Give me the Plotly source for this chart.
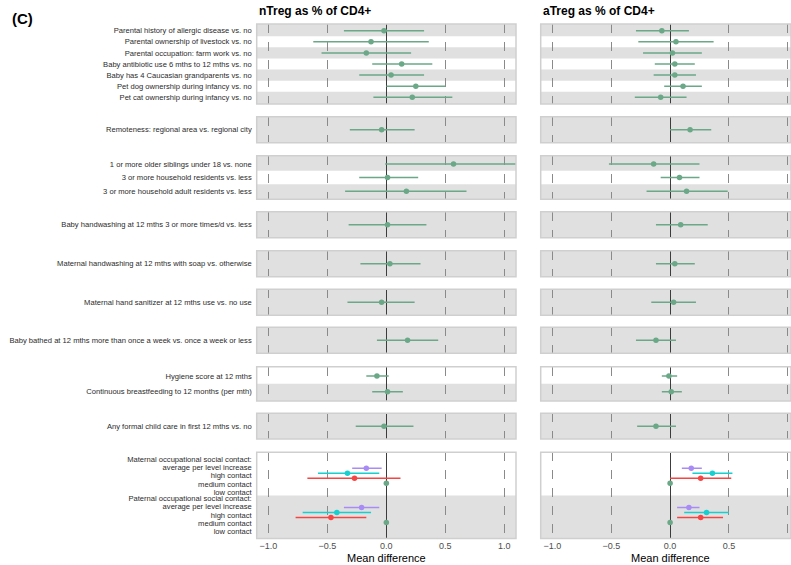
import plotly.graph_objects as go

# ---------------- data ----------------
group1_labels = ["Parental history of allergic disease vs. no",
                 "Parental ownership of livestock vs. no",
                 "Parental occupation: farm work vs. no",
                 "Baby antibiotic use 6 mths to 12 mths vs. no",
                 "Baby has 4 Caucasian grandparents vs. no",
                 "Pet dog ownership during infancy vs. no",
                 "Pet cat ownership during infancy vs. no"]
group2_labels = ["Remoteness: regional area vs. regional city"]
group3_labels = ["1 or more older siblings under 18 vs. none",
                 "3 or more household residents vs. less",
                 "3 or more household adult residents vs. less"]
group4_labels = ["Baby handwashing at 12 mths 3 or more times/d vs. less"]
group5_labels = ["Maternal handwashing at 12 mths with soap vs. otherwise"]
group6_labels = ["Maternal hand sanitizer at 12 mths use vs. no use"]
group7_labels = ["Baby bathed at 12 mths more than once a week vs. once a week or less"]
group8_labels = ["Hygiene score at 12 mths",
                 "Continuous breastfeeding to 12 months (per mth)"]
group9_labels = ["Any formal child care in first 12 mths vs. no"]

ntreg_est = [-0.02, -0.13, -0.17, 0.13, 0.04, 0.25, 0.22,
             -0.04,
             0.57, 0.01, 0.17,
             0.01, 0.03, -0.04, 0.18,
             -0.08, 0.01,
             -0.02]
ntreg_lo = [-0.36, -0.62, -0.55, -0.12, -0.23, 0.00, -0.11,
            -0.31,
            -0.01, -0.23, -0.35,
            -0.32, -0.22, -0.33, -0.08,
            -0.17, -0.12,
            -0.26]
ntreg_hi = [0.32, 0.36, 0.21, 0.39, 0.32, 0.50, 0.56,
            0.24,
            1.20, 0.27, 0.68,
            0.34, 0.29, 0.24, 0.44,
            0.02, 0.14,
            0.23]
atreg_est = [-0.07, 0.05, 0.02, 0.04, 0.04, 0.11, -0.08,
             0.17,
             -0.14, 0.08, 0.14,
             0.09, 0.04, 0.03, -0.12,
             -0.01, 0.01,
             -0.12]
atreg_lo = [-0.29, -0.27, -0.23, -0.13, -0.14, -0.05, -0.30,
            0.00,
            -0.52, -0.08, -0.20,
            -0.12, -0.12, -0.16, -0.29,
            -0.07, -0.07,
            -0.28]
atreg_hi = [0.16, 0.37, 0.27, 0.21, 0.22, 0.27, 0.14,
            0.35,
            0.25, 0.25, 0.49,
            0.32, 0.21, 0.22, 0.05,
            0.06, 0.10,
            0.05]

contact_parents = ["Maternal occupational social contact:",
                   "Paternal occupational social contact:"]
contact_levels = ["average per level increase", "high contact",
                  "medium contact", "low contact"]
ntreg_contact_est = [[-0.17, -0.33, -0.27, 0.0], [-0.21, -0.42, -0.47, 0.0]]
ntreg_contact_lo = [[-0.29, -0.58, -0.67, 0.0], [-0.36, -0.71, -0.77, 0.0]]
ntreg_contact_hi = [[-0.04, -0.06, 0.12, 0.0], [-0.06, -0.13, -0.17, 0.0]]
atreg_contact_est = [[0.18, 0.36, 0.26, 0.0], [0.16, 0.31, 0.26, 0.0]]
atreg_contact_lo = [[0.10, 0.19, 0.00, 0.0], [0.06, 0.12, 0.06, 0.0]]
atreg_contact_hi = [[0.27, 0.53, 0.52, 0.0], [0.25, 0.50, 0.45, 0.0]]

panel_titles = ["nTreg as % of CD4+", "aTreg as % of CD4+"]
x_ticks = [-1.0, -0.5, 0.0, 0.5, 1.0]
x_tick_labels = ["\u22121.0", "\u22120.5", "0.0", "0.5", "1.0"]

# ---------------- styling / layout ----------------
W, H = 791, 565
GREEN = "#6aa888"
LEVEL_COLORS = ["#a98bf5", "#17cfcf", "#f54444", GREEN]
BAND = "#e0e0e0"
FONT = "Liberation Sans"

groups = [group1_labels, group2_labels, group3_labels, group4_labels,
          group5_labels, group6_labels, group7_labels, group8_labels,
          group9_labels]
# pixel top / bottom of each facet row (10th is the social contact panel)
group_px = [(24, 104), (116.7, 142.7), (155.7, 199.3), (211.7, 237.7),
            (250.7, 276.7), (289.3, 315.3), (327.3, 353.3), (366.7, 401),
            (413.3, 439), (452.3, 538.5)]
left_dom = [256.7 / W, 516 / W]
right_dom = [540.7 / W, 1.0]
left_range = [-1.1, 1.1]
right_range = [-1.1, (W - 669.7) / 118.0]

datasets = [(ntreg_est, ntreg_lo, ntreg_hi), (atreg_est, atreg_lo, atreg_hi)]
contact_sets = [(ntreg_contact_est, ntreg_contact_lo, ntreg_contact_hi),
                (atreg_contact_est, atreg_contact_lo, atreg_contact_hi)]

fig = go.Figure()
layout = dict(width=W, height=H, margin=dict(l=0, r=0, t=0, b=0, pad=0),
              autosize=False,
              paper_bgcolor="white", plot_bgcolor="white", showlegend=False,
              font=dict(family=FONT, color="#333333"))
shapes = []
annotations = []

def ax_name(kind, k):
    return f"{kind}axis" if k == 1 else f"{kind}axis{k}"

def ax_ref(kind, k):
    return kind if k == 1 else f"{kind}{k}"

n_groups = len(group_px)
for gi in range(n_groups):
    top, bot = group_px[gi]
    ydom = [1 - bot / H, 1 - top / H]
    if gi < len(groups):
        n = len(groups[gi])
    else:
        n = len(contact_parents)
    yr = [0.4, n + 0.6]
    start = sum(len(g) for g in groups[:gi]) if gi < len(groups) else 0
    for side in range(2):
        k = 2 * gi + side + 1
        xr, yrf = ax_ref("x", k), ax_ref("y", k)
        is_bottom = gi == n_groups - 1
        layout[ax_name("x", k)] = dict(
            domain=left_dom if side == 0 else right_dom,
            range=left_range if side == 0 else right_range,
            anchor=yrf, tickvals=x_ticks, ticktext=x_tick_labels,
            showticklabels=is_bottom, ticks="", automargin=False,
            tickfont=dict(size=9, color="#4d4d4d", family=FONT),
            showgrid=True, gridcolor="#8a8a8a", griddash="dash", gridwidth=0.8,
            zeroline=True, zerolinecolor="#3c3c3c", zerolinewidth=1.3,
            showline=False, fixedrange=True)
        # y axis
        if gi < len(groups):
            labels = groups[gi]
            tickvals = [n - i for i in range(n)]
            ticktext = labels
        else:
            tickvals, ticktext = [], []
            for pi, parent in enumerate(contact_parents):
                centre = n - pi
                lines = [parent] + contact_levels
                for li, txt in enumerate(lines):
                    tickvals.append(centre + 0.42 - 0.21 * li)
                    ticktext.append(txt)
        layout[ax_name("y", k)] = dict(
            domain=ydom, range=yr, anchor=xr,
            tickvals=tickvals, ticktext=ticktext,
            showticklabels=(side == 0), ticks="", ticklabelstandoff=4,
            automargin=False,
            tickfont=dict(size=7.6, color="#2b2b2b", family=FONT),
            showgrid=False, zeroline=False, showline=False, fixedrange=True)
        # alternating bands, bottom row grey
        for r in range(1, n + 1):
            if r % 2 == 1:
                y0 = yr[0] if r == 1 else r - 0.5
                y1 = yr[1] if r == n else r + 0.5
                shapes.append(dict(type="rect", xref=f"{xr} domain", yref=yrf,
                                   x0=0, x1=1, y0=y0, y1=y1, fillcolor=BAND,
                                   line=dict(width=0), layer="below"))
        # panel border
        shapes.append(dict(type="rect", xref=f"{xr} domain", yref=f"{yrf} domain",
                           x0=0, x1=1, y0=0, y1=1,
                           line=dict(color="#cfcfcf", width=1.5), layer="above"))
        # data
        if gi < len(groups):
            est, lo, hi = datasets[side]
            e = est[start:start + n]
            l = lo[start:start + n]
            h = hi[start:start + n]
            fig.add_trace(go.Scatter(
                x=e, y=tickvals, mode="markers", xaxis=xr, yaxis=yrf,
                marker=dict(color=GREEN, size=5.5),
                error_x=dict(type="data", symmetric=False,
                             array=[hh - ee for hh, ee in zip(h, e)],
                             arrayminus=[ee - ll for ee, ll in zip(e, l)],
                             color=GREEN, thickness=1.5, width=0),
                hoverinfo="skip"))
        else:
            est, lo, hi = contact_sets[side]
            offsets = [0.19, 0.063, -0.063, -0.19]
            for li in range(len(contact_levels)):
                e = [est[p][li] for p in range(n)]
                l = [lo[p][li] for p in range(n)]
                h = [hi[p][li] for p in range(n)]
                ys = [n - p + offsets[li] for p in range(n)]
                fig.add_trace(go.Scatter(
                    x=e, y=ys, mode="markers", xaxis=xr, yaxis=yrf,
                    marker=dict(color=LEVEL_COLORS[li], size=5.5),
                    error_x=dict(type="data", symmetric=False,
                                 array=[hh - ee for hh, ee in zip(h, e)],
                                 arrayminus=[ee - ll for ee, ll in zip(e, l)],
                                 color=LEVEL_COLORS[li], thickness=1.5, width=0),
                    hoverinfo="skip"))

# titles
annotations.append(dict(text="<b>(C)</b>", x=10 / W, y=1 - 18 / H, xref="paper",
                        yref="paper", xanchor="left", yanchor="middle",
                        showarrow=False, font=dict(size=15, color="black", family=FONT)))
for side, t in enumerate(panel_titles):
    xd = left_dom[0] if side == 0 else right_dom[0]
    annotations.append(dict(text=f"<b>{t}</b>", x=xd, y=1 - 11 / H, xref="paper",
                            yref="paper", xanchor="left", yanchor="middle",
                            showarrow=False,
                            font=dict(size=12, color="black", family=FONT)))
    k = 2 * (n_groups - 1) + side + 1
    annotations.append(dict(text="Mean difference", x=0, y=1 - 558 / H,
                            xref=ax_ref("x", k), yref="paper", xanchor="center",
                            yanchor="middle", showarrow=False,
                            font=dict(size=11, color="black", family=FONT)))

layout["shapes"] = shapes
layout["annotations"] = annotations
fig.update_layout(**layout)
fig.write_html("out.html", config={"displayModeBar": False},
               post_script="document.body.style.margin='0px';"
                           "document.body.style.overflow='hidden';")
